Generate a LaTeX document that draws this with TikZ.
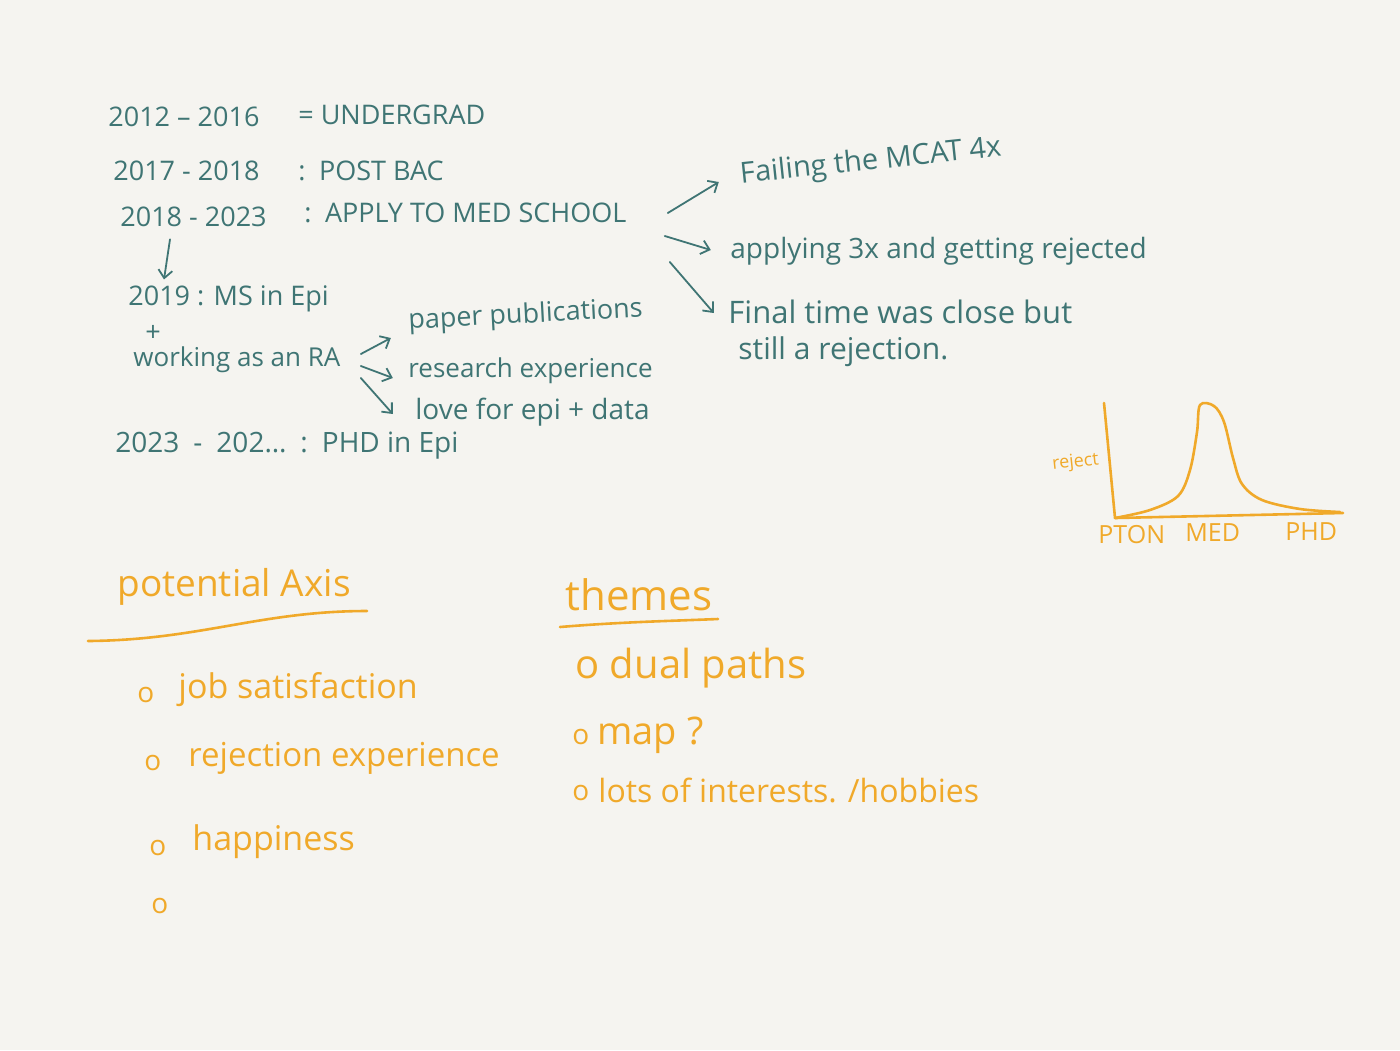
\documentclass[tikz,border=0pt]{standalone}
\usepackage{fontspec}
\setmainfont{Open Sans}
\usetikzlibrary{arrows.meta,calc}
\definecolor{paper}{HTML}{F5F4F0}
\definecolor{ink}{HTML}{3F7574}
\definecolor{amber}{HTML}{F0A92A}
\begin{document}
\begin{tikzpicture}[x=0.5pt,y=-0.5pt,
  tl/.style={text=ink, anchor=west, inner sep=0pt, font=\fontsize{13.5}{16}\selectfont},
  ol/.style={text=amber, anchor=west, inner sep=0pt, font=\fontsize{16}{18}\selectfont},
  dot/.style={text=amber, anchor=west, inner sep=0pt, font=\fontsize{14}{16}\selectfont},
  arr/.style={draw=ink, line width=0.9pt, line cap=round, line join=round,
    -{Straight Barb[length=4pt,width=7pt,line width=0.9pt]}},
  stroke/.style={draw=amber, line width=1.3pt, line cap=round, line join=round}]
\fill[paper] (0,0) rectangle (1400,1050);

% timeline, left column
\node[tl] (y1) at (108,117) {2012 -- 2016};
\node[tl] (e1) at (298,115) {= UNDERGRAD};
\node[tl] (y2) at (113,171) {2017 - 2018};
\node[tl] (e2) at (298,171) {:\enspace POST BAC};
\node[tl] (y3) at (120,217) {2018 - 2023};
\node[tl] (med) at (304,213) {:\enspace APPLY TO MED SCHOOL};
\node[tl] (ms) at (128,299) {2019 : MS in Epi};
\node[tl] (plus) at (145,333) {+};
\node[tl, font=\fontsize{13}{15}\selectfont] (ra) at (133,360) {working as an RA};
\node[tl, font=\fontsize{14}{16}\selectfont] (phd) at (115,446) {2023\enspace -\enspace 202\ldots\enspace :\enspace PHD in Epi};

\draw[arr] ($(y3.south west)+(50,12)$) -- ($(ms.north west)+(36,-6)$);

% what the RA work gave
\node[tl, rotate=3, font=\fontsize{13.5}{16}\selectfont] (pub) at (408,322) {paper publications};
\node[tl, font=\fontsize{13}{15}\selectfont] (res) at (408,371) {research experience};
\node[tl, font=\fontsize{14}{16}\selectfont] (love) at (415,412) {love for epi + data};
\draw[arr] ($(ra.east)+(20,-6)$) -- ++(30,-16);
\draw[arr] ($(ra.east)+(20,6)$) -- ++(32,12);
\draw[arr] ($(ra.east)+(20,18)$) -- ++(32,36);

% the med school years
\node[tl, rotate=6, font=\fontsize{14.5}{16}\selectfont] (mcat) at (740,176) {Failing the MCAT 4x};
\node[tl, font=\fontsize{14}{16}\selectfont] (apply) at (730,251) {applying 3x and getting rejected};
\node[tl, font=\fontsize{15.5}{17}\selectfont] (final) at (728,312) {Final time was close but};
\node[tl, font=\fontsize{15}{17}\selectfont] (still) at (738,352) {still a rejection.};
\draw[arr] ($(med.east)+(41,0)$) -- ++(51,-31);
\draw[arr] ($(med.east)+(38,23)$) -- ++(46,14);
\draw[arr] ($(med.east)+(43,49)$) -- ++(44,51);

% rejection curve
\draw[stroke] (1104,403) -- (1115,518) -- (1343,513);
\draw[stroke] plot[smooth, tension=0.55] coordinates {
  (1115,518) (1150,510) (1178,496) (1190,470) (1197,432) (1200,405)
  (1214,406) (1224,422) (1233,458) (1242,484) (1262,500) (1300,509) (1340,512)};
\node[dot, font=\fontsize{9}{10}\selectfont, rotate=6] (rej) at (1052,465) {reject};
\node[dot, font=\fontsize{12.5}{14}\selectfont] (pton) at (1098,535) {PTON};
\node[dot, font=\fontsize{12.5}{14}\selectfont] (medx) at (1185,533) {MED};
\node[dot, font=\fontsize{12.5}{14}\selectfont] (phdx) at (1285,532) {PHD};

% potential axes
\node[ol, font=\fontsize{18.5}{21}\selectfont] (axis) at (117,587) {potential Axis};
\draw[stroke] (88,641) .. controls (200,640) and (260,611) .. (367,611);
\node[dot] (b1) at (137,695) {o};
\node[ol, font=\fontsize{17}{19}\selectfont] (job) at (178,690) {job satisfaction};
\node[dot] (b2) at (144,763) {o};
\node[ol, font=\fontsize{16.5}{19}\selectfont] (rejx) at (188,758) {rejection experience};
\node[dot] (b3) at (149,848) {o};
\node[ol, font=\fontsize{17}{19}\selectfont] (hap) at (192,842) {happiness};
\node[dot] (b4) at (151,906) {o};

% themes
\node[ol, font=\fontsize{21}{23}\selectfont] (themes) at (565,595) {themes};
\draw[stroke] (560,627) .. controls (620,622) and (670,621) .. (718,619);
\node[ol, font=\fontsize{20}{22}\selectfont] (dual) at (575,668) {o dual paths};
\node[dot] (b5) at (572,737) {o};
\node[ol, font=\fontsize{19}{21}\selectfont] (map) at (597,735) {map ?};
\node[dot] (b6) at (572,793) {o};
\node[ol, font=\fontsize{16}{18}\selectfont] (lots) at (598,790) {lots of interests. /hobbies};
\end{tikzpicture}
\end{document}
